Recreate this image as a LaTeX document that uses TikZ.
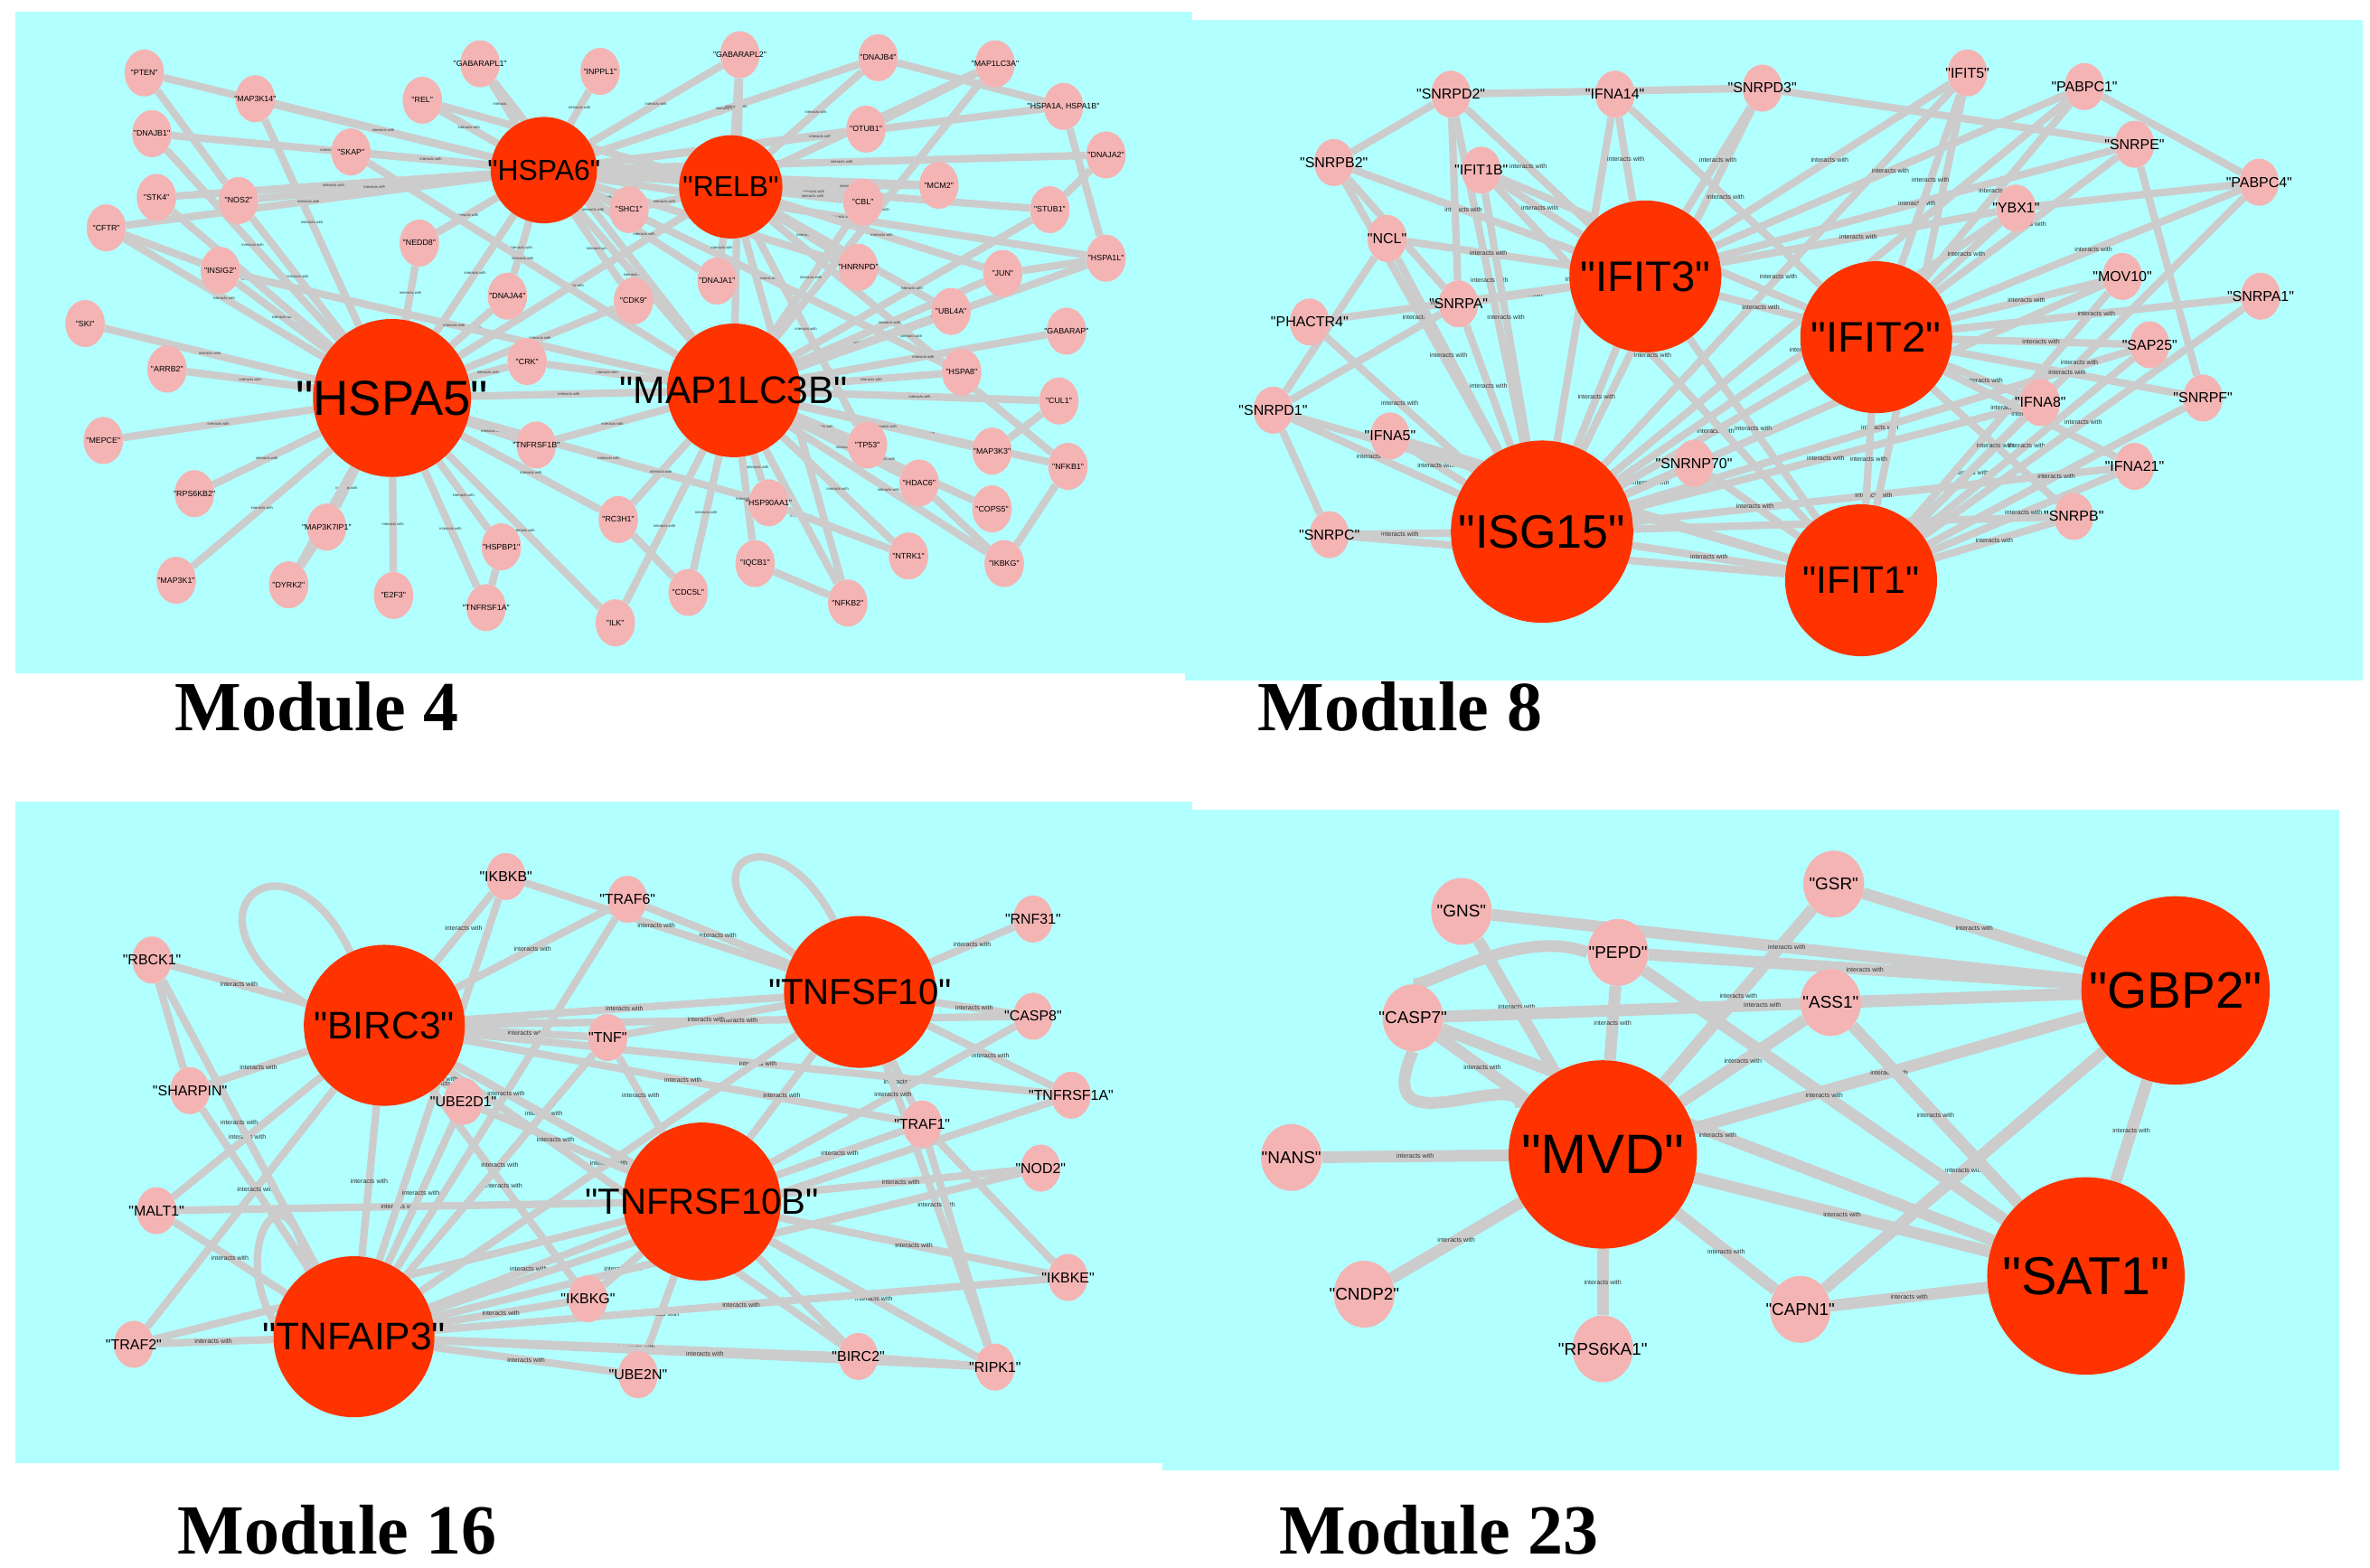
\documentclass[tikz,border=0pt]{standalone}
\usepackage{fontspec}
\setmainfont{Liberation Sans}
\newfontfamily\titlefont{Liberation Serif}
\usetikzlibrary{shapes.geometric}
\pgfdeclarelayer{bg}\pgfdeclarelayer{edges}
\pgfsetlayers{bg,edges,main}
\definecolor{panel}{RGB}{178,255,255}
\definecolor{hub}{RGB}{255,51,0}
\definecolor{small}{RGB}{244,180,180}
\definecolor{edge}{RGB}{204,204,204}
\newcommand\fs[1]{\fontsize{#1}{#1}\selectfont}
\newcommand\qq{\XeTeXglyph\XeTeXglyphindex "quotedbl"\relax}
\tikzset{
 sm/.style={ellipse,fill=small,draw=none,minimum width=1.3cm,minimum height=1.55cm,inner sep=0},
 sm23/.style={ellipse,fill=small,draw=none,minimum width=2cm,minimum height=2.2cm,inner sep=0},
 hubn/.style={circle,fill=hub,draw=none,minimum size=#1,inner sep=0},
 e/.style={draw=edge,line width=7pt},
 e23/.style={draw=edge,line width=11pt},
 il/.style={font=\fs{6},inner sep=0,text=black!80},
 il4/.style={font=\fs{3.5},inner sep=0,text=black!80},
 title/.style={font=\titlefont\bfseries\fs{66},anchor=west,inner sep=0},
}
% #1 style #2 name #3 x #4 y #5 text #6 label font size
\newcommand\sn[6]{\node[#1,label={[font=\fs{#6},inner sep=0]center:\qq#5\qq}] (#2) at (#3,#4) {};}
\newcommand\hn[6]{\node[hubn=#1,label={[font=\fs{#6},inner sep=0]center:\qq#5\qq}] (#2) at (#3,#4) {};}
\begin{document}
\begin{tikzpicture}[x=0.05cm,y=-0.05cm]
\useasboundingbox (0,0) rectangle (1560,1031.7);
\begin{pgfonlayer}{bg}
\fill[white] (0,0) rectangle (1560,1031.7);
\fill[panel] (10,8) rectangle (785,443);
\fill[panel] (780,13) rectangle (1555,448);
\fill[panel] (10,528) rectangle (785,963);
\fill[panel] (765,533) rectangle (1540,968);
\end{pgfonlayer}
\node[title] (t4) at (115,465) {Module 4};
\node[title] (t8) at (828,465) {Module 8};
\node[title] (t16) at (117,1007) {Module 16};
\node[title] (t23) at (842,1007) {Module 23};

% ---------------- Module 4
\hn{5.2cm}{a-HSPA5}{258}{262}{HSPA5}{46}
\hn{4.4cm}{a-MAP1LC3B}{483}{257}{MAP1LC3B}{36}
\hn{3.5cm}{a-HSPA6}{358}{112}{HSPA6}{27}
\hn{3.4cm}{a-RELB}{481}{123}{RELB}{27}
\foreach \n/\x/\y/\t in {PTEN/95/48/PTEN, MAP3K14/168/65/MAP3K14, DNAJB1/100/88/DNAJB1, GABARAPL1/316/42/GABARAPL1,
 REL/278/66/REL, INPPL1/395/47/INPPL1, GABARAPL2/487/36/GABARAPL2, DNAJB4/578/38/DNAJB4, MAP1LC3A/655/42/MAP1LC3A,
 HSPA1AB/700/70/{HSPA1A, HSPA1B}, SKAP/231/100/SKAP, STK4/103/130/STK4, NOS2/157/132/NOS2, CFTR/70/150/CFTR,
 NEDD8/276/160/NEDD8, SHC1/414/138/SHC1, OTUB1/570/85/OTUB1, MCM2/618/122/MCM2, CBL/568/133/CBL, STUB1/691/138/STUB1,
 DNAJA2/728/102/DNAJA2, INSIG2/145/178/INSIG2, SKI/56/213/SKI, DNAJA4/334/195/DNAJA4, CDK9/417/198/CDK9,
 DNAJA1/472/185/DNAJA1, HNRNPD/565/176/HNRNPD, JUN/660/180/JUN, HSPA1L/728/170/HSPA1L, UBL4A/626/205/UBL4A,
 GABARAP/702/218/GABARAP, ARRB2/110/243/ARRB2, CRK/347/238/CRK, HSPA8/633/245/HSPA8, CUL1/697/264/CUL1,
 MEPCE/68/290/MEPCE, TNFRSF1B/353/293/TNFRSF1B, TP53/571/293/TP53, MAP3K3/653/297/MAP3K3, NFKB1/703/307/NFKB1,
 RPS6KB2/128/325/RPS6KB2, HDAC6/605/318/HDAC6, COPS5/653/335/COPS5, MAP3K7IP1/215/347/MAP3K7IP1,
 HSP90AA1/506/331/HSP90AA1, RC3H1/407/342/RC3H1, HSPBP1/330/360/HSPBP1, MAP3K1/116/382/MAP3K1, DYRK2/190/385/DYRK2,
 E2F3/259/392/E2F3, TNFRSF1A/320/400/TNFRSF1A, ILK/405/410/ILK, CDC5L/453/390/CDC5L, IQCB1/497/371/IQCB1,
 NFKB2/558/397/NFKB2, NTRK1/598/366/NTRK1, IKBKG/661/371/IKBKG}
 {\sn{sm}{a-\n}{\x}{\y}{\t}{7.5}}
\begin{pgfonlayer}{edges}
\foreach \t in {ARRB2,MEPCE,RPS6KB2,MAP3K1,MAP3K7IP1,E2F3,TNFRSF1A,HSPBP1,TNFRSF1B,CRK,SKI,INSIG2,NOS2,STK4,CFTR,DNAJB1,MAP3K14,NEDD8,DNAJA4,CDK9,HSPA6,MAP1LC3B,RELB,HSP90AA1,RC3H1,ILK,DYRK2}
 \draw[e] (a-HSPA5) -- node[il4]{interacts with} (a-\t);
\foreach \t in {PTEN,MAP3K14,DNAJB1,REL,GABARAPL1,INPPL1,SKAP,STK4,NOS2,CFTR,NEDD8,SHC1,GABARAPL2,DNAJB4,OTUB1,MCM2,DNAJA2,HSPA1AB,DNAJA1,HNRNPD,HSPA1L,STUB1,CDK9,DNAJA4,HSPA8,MAP1LC3B}
 \draw[e] (a-HSPA6) -- node[il4]{interacts with} (a-\t);
\foreach \t in {GABARAPL2,DNAJB4,MAP1LC3A,CBL,MCM2,HNRNPD,NFKB1,NFKB2,JUN,REL,UBL4A,TP53,SHC1,DNAJA1}
 \draw[e] (a-RELB) -- node[il4]{interacts with} (a-\t);
\foreach \t in {GABARAP,GABARAPL1,GABARAPL2,MAP1LC3A,HSPA8,CUL1,NFKB1,TP53,MAP3K3,HDAC6,COPS5,NTRK1,IKBKG,NFKB2,IQCB1,CDC5L,ILK,RC3H1,HSP90AA1,TNFRSF1B,CRK,SKAP,INSIG2,CBL,UBL4A,JUN,STUB1,HSPA1L}
 \draw[e] (a-MAP1LC3B) -- node[il4]{interacts with} (a-\t);
\foreach \a/\b in {HSPA1AB/HSPA1L,DNAJA2/STUB1,IKBKG/NFKB1,HSPA1AB/DNAJB4,MAP1LC3A/OTUB1,JUN/HSPA1L,MAP3K3/CUL1,HDAC6/IKBKG,NTRK1/HSP90AA1,IQCB1/NFKB2,CDC5L/RC3H1,MAP3K7IP1/DYRK2,HSPBP1/TNFRSF1A,PTEN/NOS2,CFTR/INSIG2}
 \draw[e] (a-\a) -- (a-\b);
\end{pgfonlayer}

% ---------------- Module 8
\hn{5cm}{b-IFIT3}{1083}{182}{IFIT3}{40}
\hn{5cm}{b-IFIT2}{1235}{222}{IFIT2}{40}
\hn{6cm}{b-ISG15}{1015}{350}{ISG15}{44}
\hn{5cm}{b-IFIT1}{1225}{382}{IFIT1}{36}
\foreach \n/\x/\y in {SNRPD2/955/62, IFNA14/1063/62, SNRPD3/1160/58, IFIT5/1295/48, PABPC1/1372/57, SNRPB2/878/107,
 IFIT1B/975/112, SNRPE/1405/95, PABPC4/1487/120, YBX1/1327/137, NCL/913/157, MOV10/1397/182, SNRPA1/1488/195,
 PHACTR4/862/212, SNRPA/960/200, SAP25/1415/227, SNRPD1/838/270, IFNA8/1343/265, SNRPF/1450/262, IFNA5/915/287,
 SNRNP70/1115/305, IFNA21/1405/307, SNRPC/875/352, SNRPB/1365/340}
 {\sn{sm}{b-\n}{\x}{\y}{\n}{13.5}}
\begin{pgfonlayer}{edges}
\foreach \t in {SNRPD2,IFNA14,SNRPD3,SNRPB2,IFIT1B,NCL,PHACTR4,SNRPA,SNRPD1,IFNA5,SNRNP70,SNRPC,IFIT3,IFIT2,IFIT1,IFNA8,IFNA21,SNRPB,SAP25,MOV10,YBX1,IFIT5,PABPC1}
 \draw[e] (b-ISG15) -- node[il]{interacts with} (b-\t);
\foreach \t in {IFIT5,IFIT1B,IFNA5,IFNA8,SNRPB,IFNA21,SNRPF,SAP25,MOV10,IFIT3,IFIT2,SNRNP70,SNRPC,SNRPD1,SNRPA1,PABPC4}
 \draw[e] (b-IFIT1) -- node[il]{interacts with} (b-\t);
\foreach \t in {SNRPD2,IFNA14,SNRPD3,IFIT1B,SNRPB2,NCL,SNRPA,PHACTR4,IFIT5,PABPC1,YBX1,IFIT2,SNRPE}
 \draw[e] (b-IFIT3) -- node[il]{interacts with} (b-\t);
\foreach \t in {PABPC1,SNRPE,PABPC4,YBX1,MOV10,SNRPA1,SAP25,IFNA8,SNRPF,IFNA21,SNRPB,IFIT5,IFNA14,IFIT1B}
 \draw[e] (b-IFIT2) -- node[il]{interacts with} (b-\t);
\foreach \a/\b in {SNRPD2/SNRPB2,SNRPD3/SNRPE,SNRPA/SNRPD1,SNRPB2/SNRPA,NCL/SNRPD1,SNRPD2/SNRPD3,SNRPE/SNRPF,PABPC1/PABPC4,YBX1/PABPC4,SNRPC/SNRPD1,SNRPD2/SNRPA}
 \draw[e] (b-\a) -- (b-\b);
\end{pgfonlayer}

% ---------------- Module 16
\hn{5.3cm}{c-BIRC3}{253}{675}{BIRC3}{36}
\hn{5cm}{c-TNFSF10}{566}{653}{TNFSF10}{34}
\hn{5.2cm}{c-TNFRSF10B}{462}{791}{TNFRSF10B}{34}
\hn{5.3cm}{c-TNFAIP3}{233}{880}{TNFAIP3}{36}
\foreach \n/\x/\y in {IKBKB/333/577, TRAF6/413/592, RNF31/680/605, RBCK1/100/632, TNF/400/683, CASP8/680/669,
 SHARPIN/125/718, UBE2D1/305/725, TNFRSF1A/705/721, TRAF1/607/740, NOD2/685/769, MALT1/103/797, IKBKG/387/855,
 IKBKE/703/841, TRAF2/88/885, UBE2N/420/905, BIRC2/565/893, RIPK1/655/900}
 {\sn{sm}{c-\n}{\x}{\y}{\n}{13.5}}
\begin{pgfonlayer}{edges}
\foreach \t in {RBCK1,SHARPIN,MALT1,TRAF2,TNFAIP3,TNFRSF10B,TNFSF10,IKBKB,TRAF6,TNF,UBE2D1,IKBKG,CASP8,RIPK1,TRAF1,TNFRSF1A,BIRC2}
 \draw[e] (c-BIRC3) -- node[il]{interacts with} (c-\t);
\foreach \t in {RNF31,CASP8,TNFRSF1A,TRAF1,TNF,TNFRSF10B,TNFAIP3,TRAF6,IKBKB,RIPK1}
 \draw[e] (c-TNFSF10) -- node[il]{interacts with} (c-\t);
\foreach \t in {TNFAIP3,CASP8,TRAF1,NOD2,IKBKE,RIPK1,BIRC2,UBE2N,IKBKG,TNF,UBE2D1,TRAF2,MALT1}
 \draw[e] (c-TNFRSF10B) -- node[il]{interacts with} (c-\t);
\foreach \t in {TRAF2,MALT1,SHARPIN,RBCK1,IKBKG,UBE2N,BIRC2,RIPK1,TRAF6,IKBKB,TNF,UBE2D1,TNFRSF1A,NOD2,IKBKE}
 \draw[e] (c-TNFAIP3) -- node[il]{interacts with} (c-\t);
\foreach \a/\b in {RBCK1/SHARPIN,TRAF1/RIPK1,BIRC2/RIPK1,IKBKE/TRAF1}
 \draw[e] (c-\a) -- (c-\b);
\draw[e] (c-BIRC3.165) .. controls (110,600) and (190,540) .. (c-BIRC3.115);
\draw[e] (c-TNFSF10.150) .. controls (440,570) and (510,530) .. (c-TNFSF10.110);
\draw[e] (c-TNFAIP3.170) .. controls (150,820) and (190,760) .. (c-TNFAIP3.125);
\end{pgfonlayer}

% ---------------- Module 23
\hn{6.2cm}{d-GBP2}{1432}{652}{GBP2}{48}
\hn{6.2cm}{d-MVD}{1055}{760}{MVD}{52}
\hn{6.5cm}{d-SAT1}{1373}{840}{SAT1}{50}
\foreach \n/\x/\y in {GNS/962/600, GSR/1207/582, PEPD/1065/627, CASP7/930/670, ASS1/1205/660, NANS/850/762,
 CNDP2/898/852, RPS6KA1/1055/888, CAPN1/1185/862}
 {\sn{sm23}{d-\n}{\x}{\y}{\n}{16}}
\begin{pgfonlayer}{edges}
\foreach \t in {GNS,PEPD,CASP7,NANS,CNDP2,RPS6KA1,CAPN1,ASS1,GSR,GBP2,SAT1}
 \draw[e23] (d-MVD) -- node[il]{interacts with} (d-\t);
\foreach \t in {GNS,GSR,PEPD,ASS1,CASP7,SAT1,CAPN1}
 \draw[e23] (d-GBP2) -- node[il]{interacts with} (d-\t);
\foreach \t in {CASP7,ASS1,PEPD,CAPN1}
 \draw[e23] (d-SAT1) -- node[il]{interacts with} (d-\t);
\draw[e23] (d-CASP7.south) .. controls (900,760) and (1000,700) .. (d-MVD.150);
\draw[e23] (d-PEPD.west) .. controls (1000,610) and (940,650) .. (d-CASP7.north);
\end{pgfonlayer}
\end{tikzpicture}
\end{document}
